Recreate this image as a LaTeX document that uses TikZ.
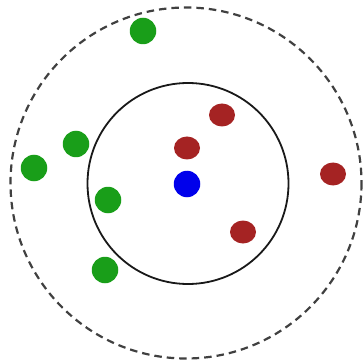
\documentclass[tikz,border=0pt]{standalone}
\usepackage{tikz}
\usetikzlibrary{shapes.geometric}
\definecolor{ptGreen}{RGB}{25,158,25}
\definecolor{ptRed}{RGB}{165,35,35}
\definecolor{ptBlue}{RGB}{0,0,235}
\tikzset{
  greenpt/.style={circle, fill=ptGreen, inner sep=0pt, minimum size=26.5pt},
  redpt/.style={ellipse, fill=ptRed, inner sep=0pt, minimum width=26pt, minimum height=23pt},
  querypt/.style={circle, fill=ptBlue, inner sep=0pt, minimum size=26.5pt},
  ringln/.style={line width=1.8pt, black!90},
  outerln/.style={dash pattern=on 7.5pt off 5pt, line width=2.2pt, black!75},
}

\begin{document}
\begin{tikzpicture}[x=1pt, y=-1pt]
    \useasboundingbox (0,0) rectangle (363,363);
    % neighbourhoods
    \coordinate (inner) at (188,183.5);
    \coordinate (outer) at (186,183);
    \draw[outerln] (outer) circle (175.5);
    \draw[ringln] (inner) circle (100.5);
    % query point
    \node[querypt] (q) at (187,184) {};
    % class A
    \foreach \px/\py [count=\i] in {143/31, 76/144, 34/168, 108/200, 105/270} {
      \node[greenpt] (g\i) at (\px,\py) {};
    }
    % class B
    \foreach \px/\py [count=\i] in {222/115, 187/148, 333/174, 243/232} {
      \node[redpt] (r\i) at (\px,\py) {};
    }
\end{tikzpicture}
\end{document}
